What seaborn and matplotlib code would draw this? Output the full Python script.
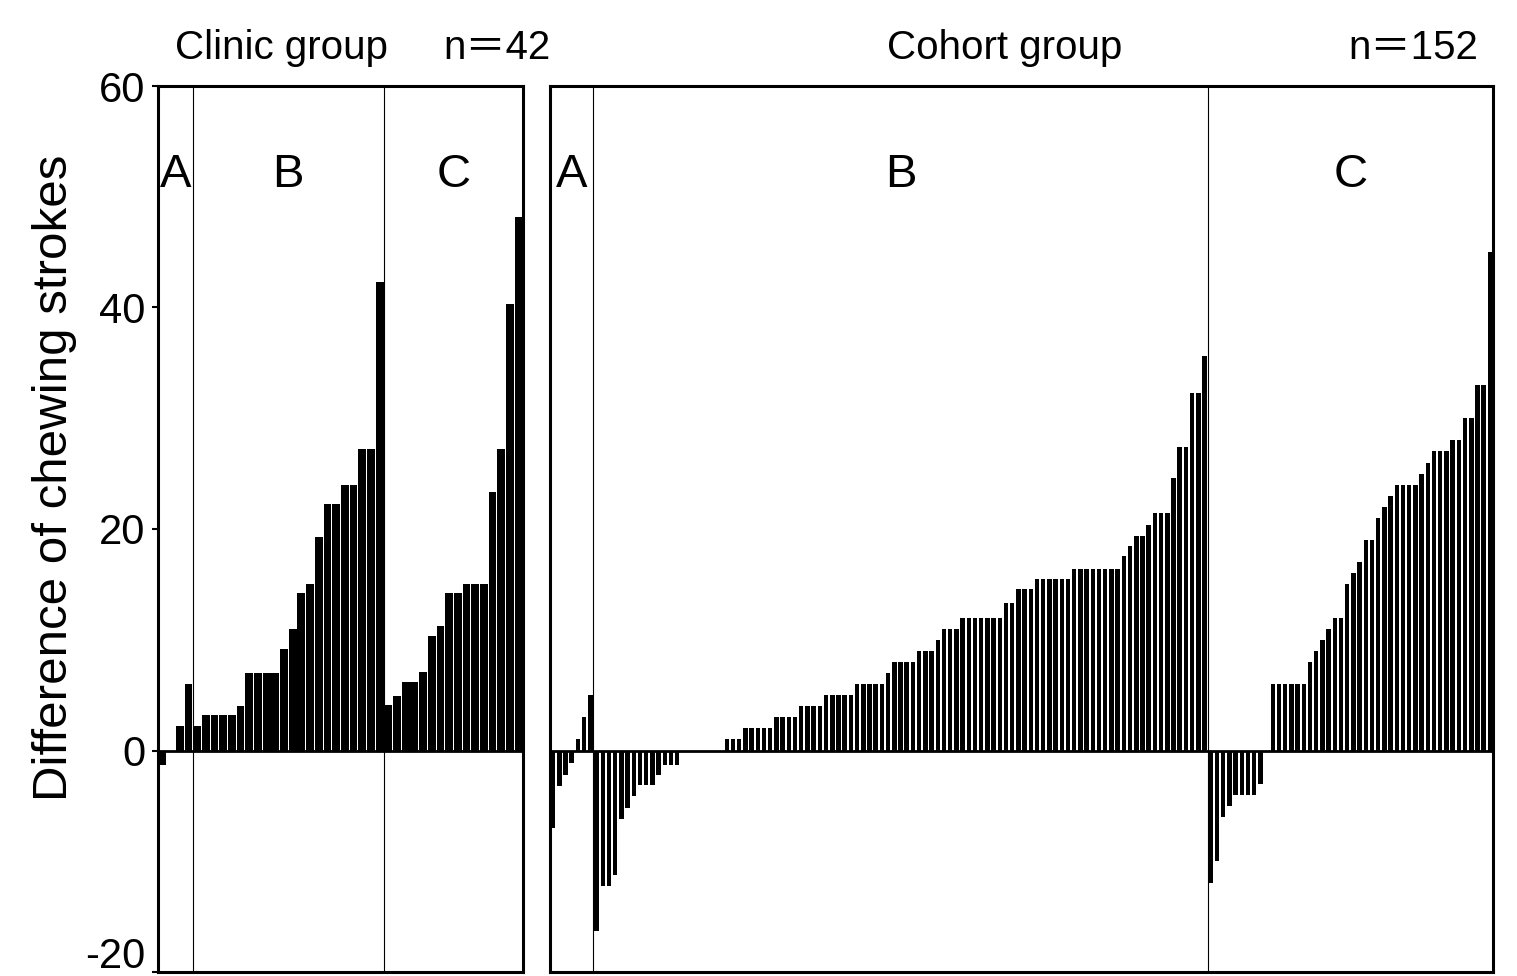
import pandas as pd
import seaborn as sns
import matplotlib.pyplot as plt
from matplotlib.transforms import ScaledTranslation

# values, sorted within each section (A, B, C)
clinic_a = [-1.3, 0, 2.2, 6]
clinic_b = [2.2, 3.2, 3.2, 3.2, 3.2, 4, 7, 7, 7, 7, 9.2, 11, 14.2, 15, 19.3,
            22.3, 22.3, 24, 24, 27.2, 27.2, 42.3]
clinic_c = [4.1, 4.9, 6.2, 6.2, 7.1, 10.3, 11.2, 14.2, 14.2, 15, 15, 15,
            23.3, 27.2, 40.3, 48.2]

cohort_a = [-7, -3.2, -2.2, -1.1, 1, 3, 5]
cohort_b = [-16.3, -12.2, -12.2, -11.2, -6.2, -5.2, -4.1, -3.1, -3.1, -3.1,
            -2.2, -1.3, -1.3, -1.3,
            0, 0, 0, 0, 0, 0, 0,
            1, 1, 1, 2, 2, 2, 2, 2, 3, 3, 3, 3, 4, 4, 4, 4, 5, 5, 5, 5, 5,
            6, 6, 6, 6, 6, 7, 8, 8, 8, 8, 9, 9, 9, 10, 11, 11, 11,
            12, 12, 12, 12, 12, 12, 12, 13.3, 13.3, 14.6, 14.6, 14.6,
            15.5, 15.5, 15.5, 15.5, 15.5, 15.5,
            16.4, 16.4, 16.4, 16.4, 16.4, 16.4, 16.4, 16.4,
            17.6, 18.5, 19.4, 19.4, 20.4, 21.4, 21.4, 21.4, 24.6,
            27.4, 27.4, 32.3, 32.3, 35.6]
cohort_c = [-12, -10, -6, -5, -4, -4, -4, -4, -3, 0,
            6, 6, 6, 6, 6, 6, 8, 9, 10, 11, 12, 12, 15, 16, 17, 19, 19,
            21, 22, 23, 24, 24, 24, 24, 25, 26, 27, 27, 27, 28, 28,
            30, 30, 33, 33, 45]

section_names = ["A", "B", "C"]
y_ticks = [-20, 0, 20, 40, 60]

sns.set_theme(style="white")
plt.rcParams["font.family"] = ["Liberation Sans", "DejaVu Sans"]
plt.rcParams["axes.unicode_minus"] = False
plt.rcParams["text.color"] = "black"
plt.rcParams["axes.labelcolor"] = "black"
plt.rcParams["ytick.color"] = "black"
title_font = ["Liberation Sans", "Noto Sans CJK JP"]

fig = plt.figure(figsize=(15.17, 9.76), dpi=100)
W, H = 1517, 976


def px_axes(x0, x1, y0, y1):
    return fig.add_axes([x0 / W, 1 - y1 / H, (x1 - x0) / W, (y1 - y0) / H])


def draw_panel(ax, sections, width, label_y=52):
    vals = sum(sections, [])
    df = pd.DataFrame({"pos": range(len(vals)), "diff": vals})
    sns.barplot(data=df, x="pos", y="diff", color="black", saturation=1,
                width=width, errorbar=None, native_scale=True, ax=ax,
                linewidth=0)
    n = len(vals)
    ax.set_xlim(-0.5, n - 0.5)
    ax.set_ylim(-20, 60)
    ax.axhline(0, color="black", lw=2)

    start = 0
    for i, sec in enumerate(sections):
        end = start + len(sec)
        if i > 0:
            ax.axvline(start - 0.5, color="black", lw=0.8)
        ax.text((start + end - 1) / 2, label_y, section_names[i],
                ha="center", va="center", fontsize=34, color="black")
        start = end

    ax.set_xticks([])
    ax.set_xlabel("")
    ax.set_ylabel("")
    for s in ax.spines.values():
        s.set_color("black")
        s.set_linewidth(2.2)


ax1 = px_axes(158, 523, 86, 972)
draw_panel(ax1, [clinic_a, clinic_b, clinic_c], 0.9)
ax1.set_yticks(y_ticks)
ax1.tick_params(axis="y", left=True, length=4, width=1.5, pad=5,
                labelsize=30, colors="black")
# the lowest label sits a little higher so it stays inside the figure
fig.canvas.draw()
low = ax1.get_yticklabels()[0]
low.set_transform(low.get_transform() + ScaledTranslation(0, 20 / 100, fig.dpi_scale_trans))

ax2 = px_axes(550, 1493, 86, 972)
draw_panel(ax2, [cohort_a, cohort_b, cohort_c], 0.72)
ax2.set_yticks(y_ticks)
ax2.tick_params(axis="y", left=False, labelleft=False)

fig.text(55 / W, 1 - 478 / H, "Difference of chewing strokes", rotation=90,
         ha="center", va="center", fontsize=35.5, color="black")
fig.text(175 / W, 1 - 48 / H, "Clinic group", ha="left", va="center",
         fontsize=29, family=title_font, color="black")
fig.text(551 / W, 1 - 48 / H, "n\uff1d42", ha="right", va="center",
         fontsize=29, family=title_font, color="black")
fig.text(1005 / W, 1 - 48 / H, "Cohort group", ha="center", va="center",
         fontsize=29, family=title_font, color="black")
fig.text(1478 / W, 1 - 48 / H, "n\uff1d152", ha="right", va="center",
         fontsize=29, family=title_font, color="black")

fig.savefig("out.png", dpi=100, facecolor="white")
